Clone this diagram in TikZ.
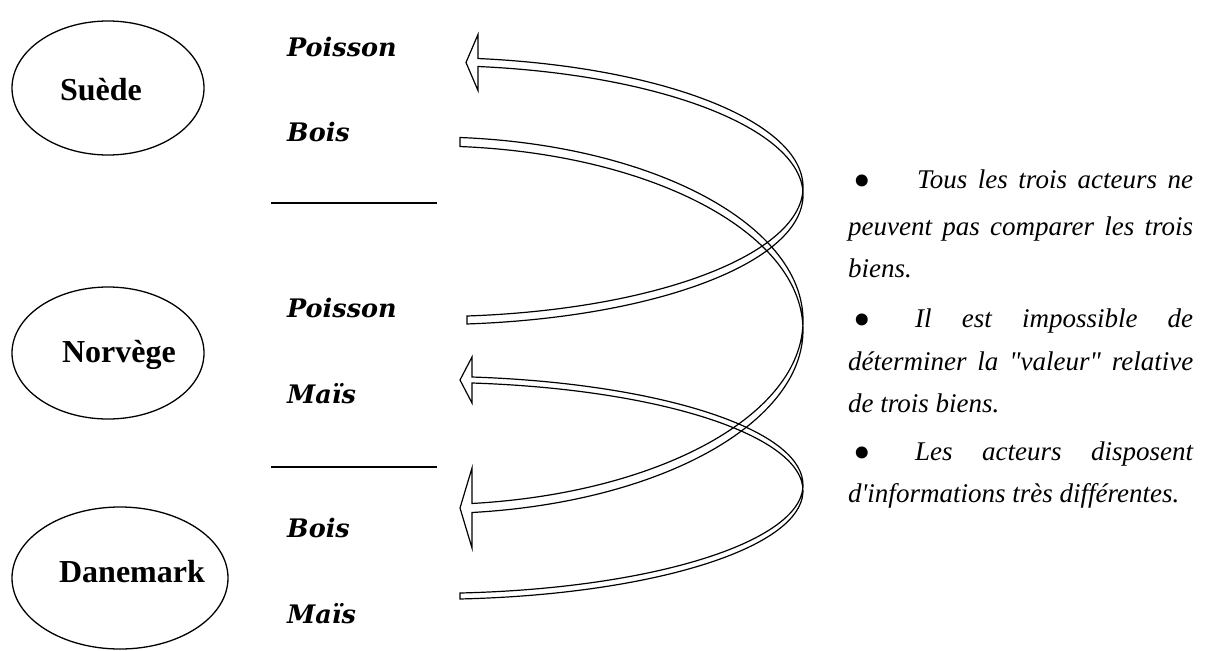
\documentclass[tikz,border=0pt]{standalone}
\usepackage{fontspec}
\setmainfont{Liberation Serif}
\newfontfamily\goodsfont{DejaVu Serif}
\newfontfamily\rtfont{Liberation Serif}[Ligatures=TeXOff]
\usetikzlibrary{shapes.geometric,calc}
\begin{document}
\begin{tikzpicture}[x=1pt,y=-1pt,
  country/.style={draw, line width=1.3pt, ellipse, inner sep=0pt},
  ctext/.style={font=\fontsize{32}{36}\selectfont\bfseries, anchor=base, inner sep=0pt},
  good/.style={font=\goodsfont\fontsize{25.5}{28}\selectfont\bfseries\itshape, anchor=base west, inner sep=0pt},
  sepline/.style={line width=2pt},
  band/.style={line width=1.2pt, line join=miter},
  btext/.style={font=\rtfont\fontsize{27}{30}\selectfont\itshape, anchor=base west, inner sep=0pt},
  bul/.style={font=\rtfont\fontsize{50}{54}\selectfont, anchor=center, inner sep=0pt}
]
\useasboundingbox (0,0) rectangle (1206,650);

% countries
\node[country, minimum width=192pt, minimum height=134pt] (suede) at (108,88) {};
\node[country, minimum width=192pt, minimum height=132pt] (norvege) at (108,353) {};
\node[country, minimum width=216pt, minimum height=142pt] (danemark) at (120,578) {};
\node[ctext] (suedeT) at (101,100.7) {Suède};
\node[ctext] (norvegeT) at (119,362) {Norvège};
\node[ctext] (danemarkT) at (132,582) {Danemark};

% goods
\node[good] (g1) at (287,56.7) {Poisson};
\node[good] (g2) at (287,141.7) {Bois};
\node[good] (g3) at (287,317) {Poisson};
\node[good] (g4) at (287,403) {Maïs};
\node[good] (g5) at (287,537) {Bois};
\node[good] (g6) at (287,623) {Maïs};

% separators
\coordinate (s1a) at (271,203); \coordinate (s1b) at (437,203);
\coordinate (s2a) at (271,467); \coordinate (s2b) at (437,467);
\draw[sepline] (s1a) -- (s1b);
\draw[sepline] (s2a) -- (s2b);

% curved arrows
\coordinate (tA) at (467,320); \coordinate (hA) at (478,62.5);
\coordinate (tB) at (460,142); \coordinate (hB) at (472,508);
\coordinate (tC) at (460,596); \coordinate (hC) at (472,380);

\draw[band] ($(tA)+(0,-4)$) arc[start angle=-84.31, end angle=82.61, x radius=373pt, y radius=129.6pt]
  -- ($(hA)+(0,-28)$) -- ($(hA)+(-12,0)$) -- ($(hA)+(0,28)$) -- ($(hA)+(0,4)$)
  arc[start angle=82.61, end angle=-84.31, x radius=373pt, y radius=129.6pt] -- cycle;

\draw[band] ($(tB)+(0,-4.5)$) arc[start angle=85.39, end angle=-83.53, x radius=373pt, y radius=183.88pt]
  -- ($(hB)+(0,-40)$) -- ($(hB)+(-12,0)$) -- ($(hB)+(0,40)$) -- ($(hB)+(0,4.5)$)
  arc[start angle=-83.53, end angle=85.39, x radius=373pt, y radius=183.88pt] -- cycle;

\draw[band] ($(tC)+(0,-3)$) arc[start angle=-85.39, end angle=83.53, x radius=373pt, y radius=108.52pt]
  -- ($(hC)+(0,-23)$) -- ($(hC)+(-12,0)$) -- ($(hC)+(0,23)$) -- ($(hC)+(0,3)$)
  arc[start angle=83.53, end angle=-85.39, x radius=373pt, y radius=108.52pt] -- cycle;

% bullet text
\node[bul] (b1) at (862,186) {\textbullet};
\node[btext] (p1a) at (917,188) {\makebox[276pt][s]{Tous les trois acteurs ne}};
\node[btext] (p1b) at (848,235) {\makebox[345pt][s]{peuvent pas comparer les trois}};
\node[btext] (p1c) at (848,277) {biens.};
\node[bul] (b2) at (862,325) {\textbullet};
\node[btext] (p2a) at (915,327) {\makebox[278pt][s]{Il est impossible de}};
\node[btext] (p2b) at (848,370) {\makebox[345pt][s]{déterminer la "valeur" relative}};
\node[btext] (p2c) at (848,412) {de trois biens.};
\node[bul] (b3) at (862,458) {\textbullet};
\node[btext] (p3a) at (915,460) {\makebox[278pt][s]{Les acteurs disposent}};
\node[btext] (p3b) at (848,502) {d'informations très différentes.};
\end{tikzpicture}
\end{document}
